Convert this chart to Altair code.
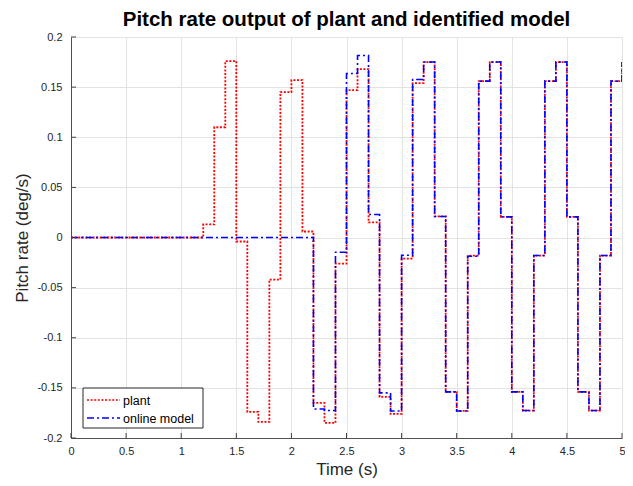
import altair as alt
import pandas as pd

# ---- data ----
plant_time = [0.0, 1.2, 1.3, 1.4, 1.5, 1.6, 1.7, 1.8, 1.9, 2.0, 2.1, 2.2, 2.3, 2.4, 2.5,
              2.6, 2.7, 2.8, 2.9, 3.0, 3.1, 3.2, 3.3, 3.4, 3.5, 3.6, 3.7, 3.8, 3.9, 4.0,
              4.1, 4.2, 4.3, 4.4, 4.5, 4.6, 4.7, 4.8, 4.9, 5.0]
plant_value = [0.0, 0.013, 0.110, 0.176, -0.004, -0.174, -0.184, -0.042, 0.145, 0.157,
               0.006, -0.165, -0.185, -0.026, 0.147, 0.168, 0.015, -0.159, -0.176, -0.021,
               0.154, 0.175, 0.021, -0.154, -0.173, -0.018, 0.156, 0.175, 0.0206, -0.154,
               -0.1726, -0.018, 0.156, 0.175, 0.0206, -0.154, -0.1726, -0.018, 0.156, 0.175]

model_time = [0.0, 2.2, 2.3, 2.4, 2.5, 2.6, 2.7, 2.8, 2.9, 3.0, 3.1, 3.2, 3.3, 3.4, 3.5,
              3.6, 3.7, 3.8, 3.9, 4.0, 4.1, 4.2, 4.3, 4.4, 4.5, 4.6, 4.7, 4.8, 4.9, 5.0]
model_value = [0.0, -0.171, -0.1726, -0.0147, 0.1636, 0.1815, 0.023, -0.155, -0.173, -0.0177,
               0.1576, 0.175, 0.021, -0.154, -0.173, -0.0187, 0.156, 0.175, 0.0206, -0.154,
               -0.1726, -0.018, 0.156, 0.175, 0.0206, -0.154, -0.1726, -0.018, 0.156, 0.175]

series_names = ["plant", "online model"]
series_colors = ["#ff0000", "#0000ff"]
series_dashes = [[2, 1.6], [7, 3, 2, 3]]

x_ticks = [0, 0.5, 1, 1.5, 2, 2.5, 3, 3.5, 4, 4.5, 5]
y_ticks = [-0.2, -0.15, -0.1, -0.05, 0, 0.05, 0.1, 0.15, 0.2]

FONT = "Liberation Sans"
PAD_L, PAD_T, PAD_R, PAD_B = 63, 29, 3, 40
W, H = 551, 401

plant_df = pd.DataFrame({"t": plant_time, "q": plant_value, "series": series_names[0]})
model_df = pd.DataFrame({"t": model_time, "q": model_value, "series": series_names[1]})

x_scale = alt.Scale(domain=[0, 5], nice=False, zero=False)
y_scale = alt.Scale(domain=[-0.2, 0.2], nice=False, zero=False)

x_axis = alt.Axis(values=x_ticks, title="Time (s)", labelPadding=7, titleX=W / 2, titleY=31,
                  titleBaseline="middle", titleAlign="center", labelFlush=False,
                  labelExpr="datum.value + ''")
y_axis = alt.Axis(values=y_ticks, title="Pitch rate (deg/s)", labelPadding=9, titleX=-49,
                  titleY=H / 2, titleBaseline="middle", titleAlign="center", titleAngle=270,
                  labelFlush=False, labelExpr="datum.value + ''")

X = alt.X("t:Q", scale=x_scale, axis=x_axis)
Y = alt.Y("q:Q", scale=y_scale, axis=y_axis)

plant_line = alt.Chart(plant_df).mark_line(
    interpolate="step-after", strokeWidth=1.8, strokeCap="butt", clip=True,
    color=series_colors[0], strokeDash=series_dashes[0]).encode(x=X, y=Y)
model_line = alt.Chart(model_df).mark_line(
    interpolate="step-after", strokeWidth=1.6, strokeCap="butt", clip=True,
    color=series_colors[1], strokeDash=series_dashes[1]).encode(x=X, y=Y)

# inward-pointing ticks (MATLAB style)
xt_df = pd.DataFrame({"t": x_ticks})
yt_df = pd.DataFrame({"q": y_ticks})
x_tick_marks = alt.Chart(xt_df).mark_rule(color="#404040", strokeWidth=1).encode(
    x=X, y=alt.value(H), y2=alt.value(H - 5))
y_tick_marks = alt.Chart(yt_df).mark_rule(color="#404040", strokeWidth=1).encode(
    y=Y, x=alt.value(0), x2=alt.value(5))

# legend box (lower left, inside the axes)
LX0, LX1, LY0, LY1 = 12, 132, 351, 391
row_y = [363, 381]
leg_df = pd.DataFrame({"series": series_names})
legend_box = alt.Chart(leg_df.head(1)).mark_rect(
    fill="white", stroke="#262626", strokeWidth=1).encode(
    x=alt.value(LX0), x2=alt.value(LX1), y=alt.value(LY0), y2=alt.value(LY1))
legend_layers = [legend_box]
for i, name in enumerate(series_names):
    one = pd.DataFrame({"series": [name]})
    legend_layers.append(alt.Chart(one).mark_rule(
        color=series_colors[i], strokeDash=series_dashes[i], strokeWidth=1.7,
        strokeCap="butt").encode(
        x=alt.value(16), x2=alt.value(49), y=alt.value(row_y[i])))
    legend_layers.append(alt.Chart(one).mark_text(
        font=FONT, fontSize=12.5, align="left", baseline="middle", color="#000000").encode(
        x=alt.value(52), y=alt.value(row_y[i] + 0.5), text="series:N"))

chart = alt.layer(plant_line, model_line, x_tick_marks, y_tick_marks, *legend_layers).properties(
    width=W, height=H,
    title=alt.TitleParams("Pitch rate output of plant and identified model", font=FONT,
                          fontSize=20.5, fontWeight="bold", anchor="middle", color="#000000",
                          offset=1),
    autosize=alt.AutoSizeParams(type="none"),
    padding={"left": PAD_L, "top": PAD_T, "right": PAD_R, "bottom": PAD_B},
).configure_axis(
    grid=True, gridColor="#e3e3e3", gridWidth=1, ticks=False,
    domainColor="#505050", domainWidth=1,
    labelFont=FONT, labelFontSize=11, labelColor="#262626",
    titleFont=FONT, titleFontSize=17, titleFontWeight="normal", titleColor="#262626",
).configure_view(stroke=None)

chart.save("out.html", embed_options={"renderer": "svg", "actions": False})
